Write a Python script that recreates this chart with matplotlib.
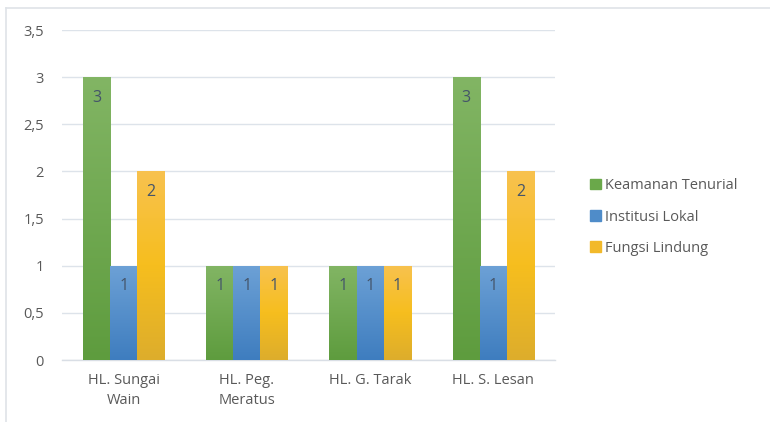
import numpy as np
import matplotlib.pyplot as plt
from matplotlib.lines import Line2D
from matplotlib.colors import LinearSegmentedColormap
from matplotlib.ticker import FuncFormatter

plt.rcParams['font.family'] = ['Open Sans', 'DejaVu Sans']

# Data
categories = ['HL. Sungai\nWain', 'HL. Peg.\nMeratus', 'HL. G. Tarak', 'HL. S. Lesan']
series_names = ['Keamanan Tenurial', 'Institusi Lokal', 'Fungsi Lindung']
keamanan = [3, 1, 1, 3]
institusi = [1, 1, 1, 1]
fungsi = [2, 1, 1, 2]
values = [keamanan, institusi, fungsi]

# gradient colours: (top, bottom)
grad = [('#82b564', '#5e9c3e'),
        ('#6da1d6', '#3e7dbf'),
        ('#f8c24f', '#ddad2c')]
legend_colors = ['#6aa84a', '#4f8cc9', '#f2b92a']
yellow_mid = '#f6be1e'

fig = plt.figure(figsize=(7.7, 4.22), dpi=100)
ax = fig.add_axes([62/770, 62/422, 493/770, 330/422])

x = np.arange(len(categories))
w = 0.22
ymax = 3.5
for i, vals in enumerate(values):
    xs = x + (i - 1) * w
    bars = ax.bar(xs, vals, width=w, color='none', edgecolor='none', zorder=3)
    if i == 2:
        cmap = LinearSegmentedColormap.from_list('g%d' % i, [grad[i][1], yellow_mid, grad[i][0]])
    else:
        cmap = LinearSegmentedColormap.from_list('g%d' % i, [grad[i][1], grad[i][0]])
    for b, v in zip(bars, vals):
        x0 = b.get_x()
        img = np.linspace(0, 1, 256).reshape(-1, 1)
        im = ax.imshow(img, cmap=cmap, origin='lower', aspect='auto',
                       extent=[x0, x0 + w, 0, v], zorder=3)
        im.set_clip_path(b)
        ax.text(b.get_x() + w / 2, v - 0.22, str(v), ha='center', va='center',
                fontsize=11.5, color='#44546a', zorder=4)

ax.set_xlim(-0.5, len(categories) - 0.5)
ax.set_ylim(0, ymax)
ax.set_yticks(np.arange(0, 3.51, 0.5))
ax.yaxis.set_major_formatter(FuncFormatter(lambda v, p: ('%g' % v).replace('.', ',')))
ax.set_xticks(x)
ax.set_xticklabels(categories, fontsize=10.5, color='#595959', linespacing=1.5)
ax.tick_params(axis='y', labelsize=10.5, labelcolor='#595959', length=0, pad=13)
ax.tick_params(axis='x', length=0, pad=9)
ax.grid(axis='y', color='#dde3ea', linewidth=1, zorder=0)
for s in ['top', 'right', 'left']:
    ax.spines[s].set_visible(False)
ax.spines['bottom'].set_color('#d9dee5')
ax.spines['bottom'].set_linewidth(1)

handles = [plt.Rectangle((0, 0), 1, 1, color=c) for c in legend_colors]
fig.legend(handles, series_names, loc='center left', bbox_to_anchor=(577/770, 1 - 217/422),
           frameon=False, fontsize=10.5, labelcolor='#595959', handlelength=0.75,
           handleheight=0.75, handletextpad=0.25, labelspacing=1.12)

# outer frame (top and left only visible)
fig.add_artist(Line2D([6/770, 1], [1 - 8/422, 1 - 8/422], color='#dfe3e8', lw=1.2))
fig.add_artist(Line2D([6/770, 6/770], [0, 1 - 8/422], color='#dfe3e8', lw=1.2))

fig.savefig('out.png', dpi=100)
